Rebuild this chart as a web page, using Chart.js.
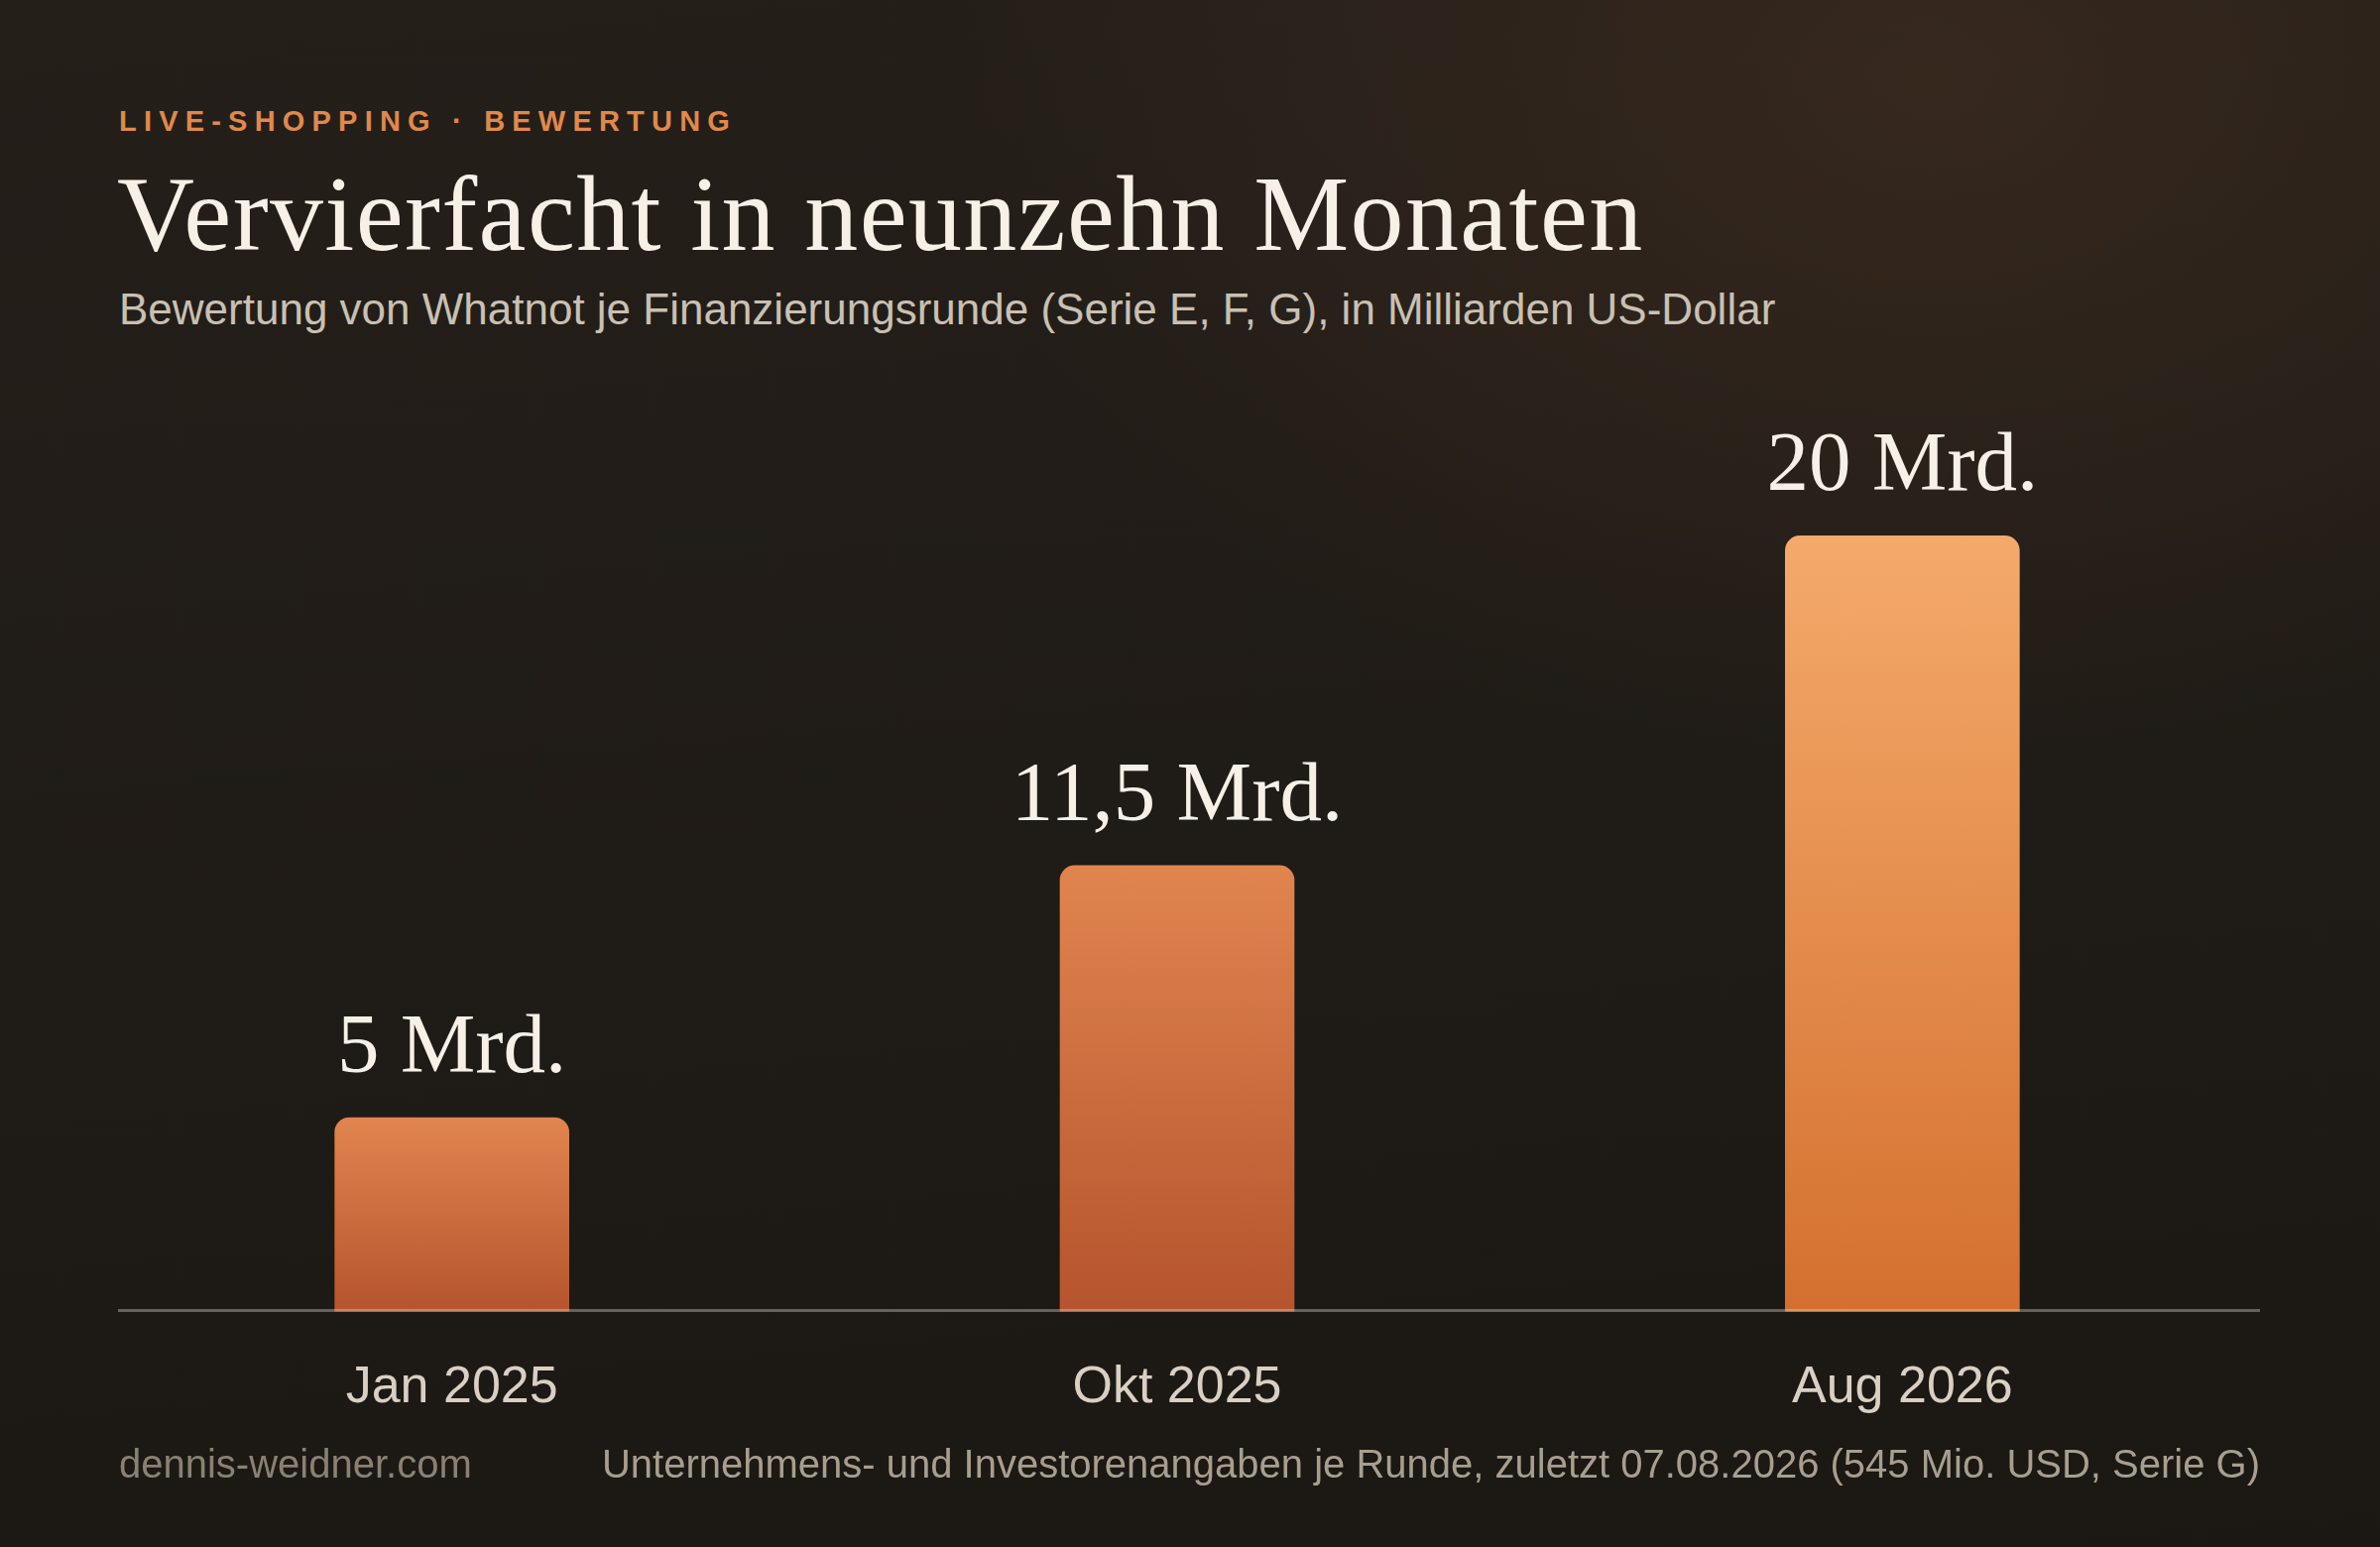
<!DOCTYPE html>
<html lang="de">
<head>
<meta charset="utf-8">
<script src="https://cdn.jsdelivr.net/npm/chart.js@4.4.1/dist/chart.umd.min.js"></script>
<style>
  html, body { margin: 0; padding: 0; }
  body {
    width: 2400px; height: 1560px; overflow: hidden; position: relative;
    background:
      radial-gradient(ellipse 1400px 1000px at 1950px 80px, rgba(62,44,31,0.7), rgba(62,44,31,0) 70%),
      linear-gradient(175deg, #251f1a 0%, #1f1b16 55%, #1b1712 100%);
    font-family: "Liberation Sans", Arial, sans-serif;
  }
  #c { position: absolute; left: 0; top: 0; width: 2400px; height: 1560px; }
  .t { position: absolute; white-space: nowrap; line-height: 1; }
  #kicker { left: 120px; top: 108px; font-size: 29px; font-weight: bold; letter-spacing: 7.2px; color: #e0894c; }
  #title { left: 118px; top: 162px; font-size: 108px; letter-spacing: 1.35px; font-family: "Liberation Serif", "DejaVu Serif", serif; color: #f6f0e7; }
  #subtitle { left: 120px; top: 290px; font-size: 44px; color: #c9c0b3; }
  #src-left { left: 120px; top: 1456px; font-size: 40px; color: #8a8173; }
  #src-right { right: 121px; top: 1456px; font-size: 40px; color: #a89e8f; }
</style>
</head>
<body>
<div class="t" id="kicker">LIVE-SHOPPING · BEWERTUNG</div>
<div class="t" id="title">Vervierfacht in neunzehn Monaten</div>
<div class="t" id="subtitle">Bewertung von Whatnot je Finanzierungsrunde (Serie E, F, G), in Milliarden US-Dollar</div>
<canvas id="c" width="2400" height="1560"></canvas>
<div class="t" id="src-left">dennis-weidner.com</div>
<div class="t" id="src-right">Unternehmens- und Investorenangaben je Runde, zuletzt 07.08.2026 (545 Mio. USD, Serie G)</div>
<script>
// ---- data ----
const rounds = ["Jan 2025", "Okt 2025", "Aug 2026"];
const valuations = [5, 11.5, 20];          // Mrd. USD
const labelSuffix = " Mrd.";

function fmt(v) { return String(v).replace(".", ",") + labelSuffix; }

function barFill(ctx) {
  const chart = ctx.chart;
  const y = chart.scales && chart.scales.y;
  if (!chart.chartArea || !y) return "#d8774a";
  const i = ctx.dataIndex;
  const top = y.getPixelForValue(valuations[i]);
  const bottom = y.getPixelForValue(0);
  const g = chart.ctx.createLinearGradient(0, top, 0, bottom);
  if (i === valuations.length - 1) {
    g.addColorStop(0, "#f4aa6b");
    g.addColorStop(1, "#d4702f");
  } else {
    g.addColorStop(0, "#e1854f");
    g.addColorStop(1, "#b5542e");
  }
  return g;
}

const overlay = {
  id: "overlay",
  afterDatasetsDraw(chart) {
    const c = chart.ctx;
    // baseline
    c.save();
    c.strokeStyle = "rgba(226,216,200,0.38)";
    c.lineWidth = 3;
    c.beginPath();
    c.moveTo(119, 1321.5);
    c.lineTo(2279, 1321.5);
    c.stroke();
    // value labels
    c.fillStyle = "#f6f0e7";
    c.font = '85px "Liberation Serif", "DejaVu Serif", serif';
    c.textAlign = "center";
    c.textBaseline = "alphabetic";
    chart.getDatasetMeta(0).data.forEach((bar, i) => {
      c.fillText(fmt(valuations[i]), bar.x, bar.y - 46);
    });
    c.restore();
  }
};

Chart.defaults.font.family = '"Liberation Sans", Arial, sans-serif';

new Chart(document.getElementById("c"), {
  type: "bar",
  data: {
    labels: rounds,
    datasets: [{
      data: valuations,
      backgroundColor: barFill,
      borderWidth: 0,
      borderRadius: { topLeft: 15, topRight: 15, bottomLeft: 0, bottomRight: 0 },
      borderSkipped: "start",
      barThickness: 236
    }]
  },
  options: {
    responsive: false,
    devicePixelRatio: 1,
    animation: false,
    layout: { padding: { left: 90, right: 116, top: 384, bottom: 83 } },
    plugins: { legend: { display: false }, tooltip: { enabled: false } },
    scales: {
      x: {
        grid: { display: false, drawTicks: false },
        border: { display: false },
        ticks: { color: "#d9d0c3", font: { size: 52 }, padding: 46 }
      },
      y: { display: false, min: 0, max: 24 }
    }
  },
  plugins: [overlay]
});
</script>
</body>
</html>
